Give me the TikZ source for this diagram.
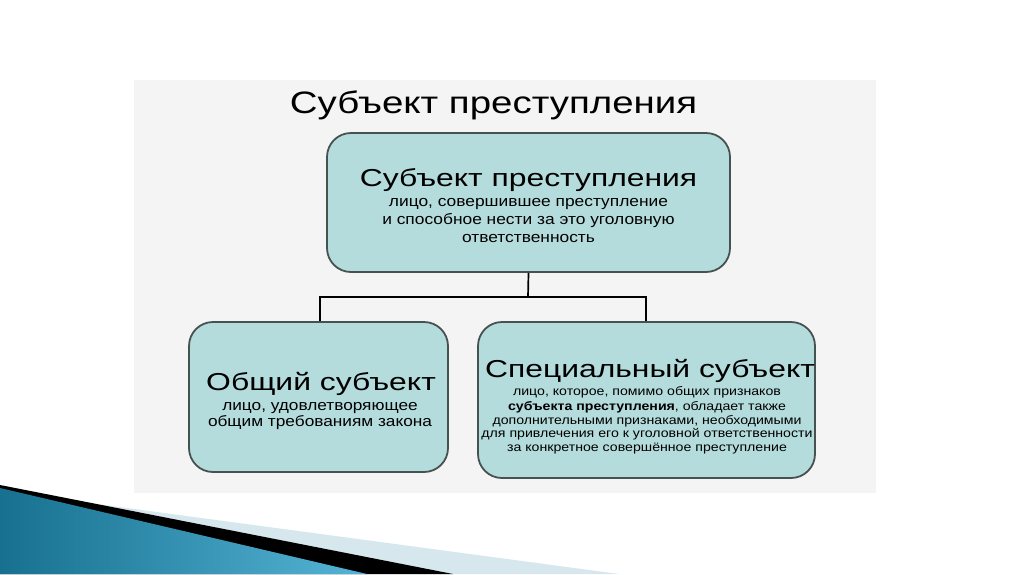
\documentclass[tikz,border=0pt]{standalone}
\usepackage{fontspec}
\setmainfont[FakeStretch=1.3]{Liberation Sans}
\newfontfamily\titlefont[FakeStretch=1.24]{Liberation Sans}
\newfontfamily\smallfont[FakeStretch=1.15]{Liberation Sans}
\definecolor{panel}{HTML}{F4F4F4}
\definecolor{boxfill}{HTML}{B5DCDC}
\definecolor{boxline}{HTML}{46524F}
\definecolor{lightstrip}{HTML}{D6E8EE}
\definecolor{bluedark}{HTML}{17708F}
\definecolor{bluelight}{HTML}{55B4D6}
\begin{document}
\begin{tikzpicture}[x=1pt,y=-1pt,
  box/.style={draw=boxline, line width=1.8pt, fill=boxfill, rounded corners=24pt, inner sep=0pt},
  txt/.style={inner sep=0pt, anchor=base, text=black},
  conn/.style={draw=black, line width=1.7pt},
  headf/.style={font=\fontsize{24.5}{28}\selectfont},
  topf/.style={font=\smallfont\fontsize{15.1}{18}\selectfont},
  leftf/.style={font=\smallfont\fontsize{15}{18}\selectfont},
  rightf/.style={font=\smallfont\fontsize{12.3}{14}\selectfont}]
\useasboundingbox (0,0) rectangle (1024,574);
\fill[white] (0,0) rectangle (1024,574);
% panel
\fill[panel] (134,80) rectangle (876,493);
% bottom decoration
\fill[lightstrip] (0,491) -- (619,574) -- (0,574) -- cycle;
\fill[black] (0,485) -- (453,574) -- (0,574) -- cycle;
\shade[left color=bluedark, right color=bluelight] (0,488) -- (367,574) -- (0,574) -- cycle;
% title
\node[txt, font=\titlefont\fontsize{31}{34}\selectfont] (title) at (493.5,113.3) {Субъект преступления};
% boxes
\node[box, minimum width=403pt, minimum height=139pt] (top) at (528.5,202.5) {};
\node[box, minimum width=259pt, minimum height=150pt] (left) at (318.5,397) {};
\node[box, minimum width=337pt, minimum height=156pt] (right) at (646.5,400) {};
% top box text
\node[txt, headf] (toph) at (528.5,186.7) {Субъект преступления};
\node[txt, topf] (top1) at (528.5,206) {лицо, совершившее преступление};
\node[txt, topf] (top2) at (528.5,224) {и способное нести за это уголовную};
\node[txt, topf] (top3) at (528.5,242.3) {ответственность};
% left box text
\node[txt, headf] (lefth) at (321,390) {Общий субъект};
\node[txt, leftf] (left1) at (320,410) {лицо, удовлетворяющее};
\node[txt, leftf] (left2) at (320,426.7) {общим требованиям закона};
% right box text
\node[txt, headf] (righth) at (650,377.7) {Специальный субъект};
\node[txt, rightf] (right1) at (647,395) {лицо, которое, помимо общих признаков};
\node[txt, rightf] (right2) at (647,410) {\textbf{субъекта преступления}, обладает также};
\node[txt, rightf] (right3) at (647,424) {дополнительными признаками, необходимыми};
\node[txt, rightf] (right4) at (647,437.7) {для привлечения его к уголовной ответственности};
\node[txt, rightf] (right5) at (647,451.7) {за конкретное совершённое преступление};
% connectors
\coordinate (fork) at (528,297);
\draw[conn] (top.south) -- (fork);
\draw[conn] (left.north -| 320,0) |- (fork) -| (right.north -| 646,0);
\end{tikzpicture}
\end{document}
